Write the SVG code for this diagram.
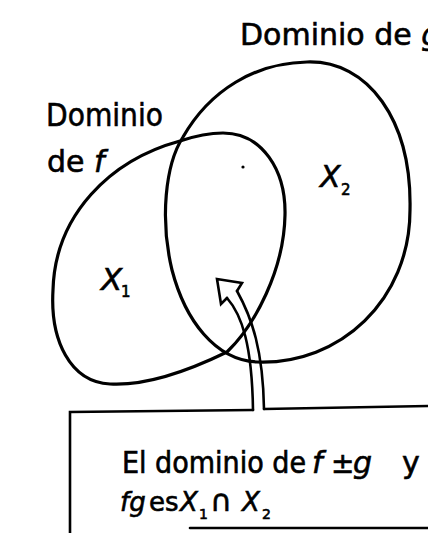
<svg xmlns="http://www.w3.org/2000/svg" width="428" height="533" viewBox="0 0 428 533">
<style>
.c{fill:none;stroke:#000;stroke-width:3.2;stroke-linejoin:round;stroke-linecap:round}
.a{fill:none;stroke:#000;stroke-width:2.6;stroke-linejoin:miter;stroke-linecap:round}
.t{font-family:"DejaVu Sans","Liberation Sans",sans-serif;fill:#000;stroke:#000;stroke-width:0.6}
.i{font-style:italic}
</style>
<rect width="428" height="533" fill="#fff"/>
<g id="domain-g">
<path class="c" d="M307,62 C368,60 412,120 410,210 C410,300 340,365 257,362 C215,360 185,320 172,270 C160,220 165,165 183,137 C210,90 255,63 307,62 Z"/>
<text class="t" x="240" y="45" font-size="30">Dominio de <tspan class="i">g</tspan></text>
<text class="t i" x="320" y="187" font-size="30">X</text>
<text class="t" x="341" y="195" font-size="15">2</text>
</g>
<g id="domain-f">
<path class="c" d="M223,133 C262,133 286,170 285,215 C284,270 255,325 227,352 C190,370 145,386 110,384 C70,382 50,340 53,290 C55,215 110,160 180,141 C195,136 210,133 223,133 Z"/>
<text class="t" x="46" y="126" font-size="32" textLength="117" lengthAdjust="spacingAndGlyphs">Dominio</text>
<text class="t" x="47" y="172" font-size="30">de <tspan class="i">f</tspan></text>
<text class="t i" x="101" y="290" font-size="31">X</text>
<text class="t" x="121" y="297" font-size="15">1</text>
</g>
<circle id="point" cx="243" cy="167" r="1.6" fill="#000"/>
<g id="connectors">
<path class="a" d="M227,298 L221,304 L217,279 L242,283 L237,291"/>
<path class="a" d="M237,291 C252,318 263,350 264,409"/>
<path class="a" d="M227,298 C242,315 252,345 253,410"/>
</g>
<g id="note-box">
<path class="a" d="M70,533 L70,412 L253,410"/>
<path class="a" d="M264,409 L428,406"/>
<path class="a" d="M190,528 L428,528"/>
<text class="t" y="473" font-size="30"><tspan x="122" font-family="'DejaVu Sans Condensed','DejaVu Sans',sans-serif">El dominio de</tspan><tspan class="i" x="312">f</tspan><tspan x="331" font-size="28">±</tspan><tspan class="i" x="353">g</tspan><tspan x="402">y</tspan></text>
<text class="t" y="511" font-size="26"><tspan class="i" x="120">fg</tspan><tspan x="149">es</tspan><tspan class="i" x="180">X</tspan><tspan x="199" dy="8" font-size="14">1</tspan><tspan x="210" dy="-8" font-size="30">∩</tspan><tspan class="i" x="242">X</tspan><tspan x="262" dy="8" font-size="14">2</tspan></text>
</g>
</svg>
